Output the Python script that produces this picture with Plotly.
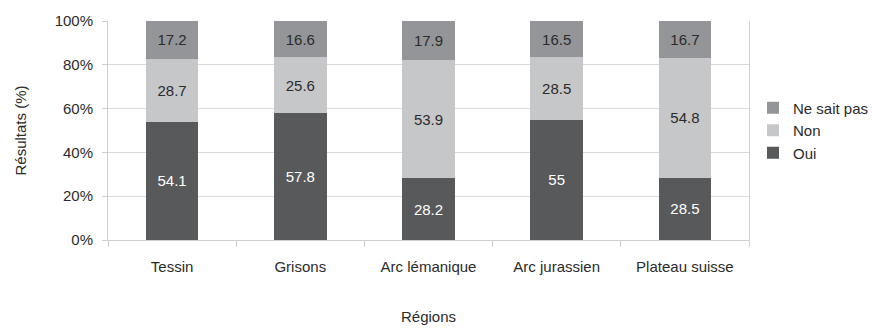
import plotly.graph_objects as go

regions = ["Tessin", "Grisons", "Arc lémanique", "Arc jurassien", "Plateau suisse"]
oui = [54.1, 57.8, 28.2, 55, 28.5]
non = [28.7, 25.6, 53.9, 28.5, 54.8]
ne_sait_pas = [17.2, 16.6, 17.9, 16.5, 16.7]
y_ticks = [0, 20, 40, 60, 80, 100]
y_tick_labels = ["0%", "20%", "40%", "60%", "80%", "100%"]

font = "Liberation Sans, Arial, sans-serif"
series = [
    ("Oui", oui, "#58595b", "#ffffff"),
    ("Non", non, "#c6c7c9", "#2b2b2b"),
    ("Ne sait pas", ne_sait_pas, "#939598", "#2b2b2b"),
]

fig = go.Figure()
for name, vals, color, tcolor in series:
    fig.add_trace(go.Bar(
        name=name, x=regions, y=vals,
        marker=dict(color=color, line=dict(width=0)),
        text=[f"{v:g}" for v in vals],
        textposition="inside", insidetextanchor="middle",
        textfont=dict(family=font, size=15, color=tcolor),
        textangle=0,
    ))

fig.update_layout(
    barmode="stack",
    bargap=0.59,
    width=874, height=331,
    margin=dict(l=108, r=125, t=21, b=91, autoexpand=False),
    paper_bgcolor="white", plot_bgcolor="white",
    font=dict(family=font, size=15, color="#2b2b2b"),
    uniformtext=dict(minsize=8, mode="show"),
    legend=dict(
        traceorder="reversed",
        xref="container", x=1.0, xanchor="right",
        y=0.5, yanchor="middle",
        font=dict(size=15, color="#2b2b2b"),
        itemwidth=30, tracegroupgap=0,
        bgcolor="rgba(0,0,0,0)",
    ),
    xaxis=dict(
        title=dict(text="Régions", standoff=37, font=dict(size=15)),
        showgrid=False,
        showline=True, linecolor="#cfcfcf", linewidth=1,
        ticks="outside", tickson="boundaries", ticklen=6, tickcolor="#cfcfcf",
        ticklabelstandoff=13,
        tickfont=dict(size=15),
    ),
    yaxis=dict(
        title=dict(text="Résultats (%)", standoff=24, font=dict(size=15)),
        range=[0, 100],
        tickvals=y_ticks, ticktext=y_tick_labels,
        showgrid=True, gridcolor="#d9d9d9", gridwidth=1,
        showline=True, linecolor="#cfcfcf", linewidth=1, mirror=True,
        ticks="outside", ticklen=5, tickcolor="#cfcfcf",
        ticklabelstandoff=6,
        tickfont=dict(size=15),
        zeroline=False,
    ),
)

fig.write_html("out.html")
